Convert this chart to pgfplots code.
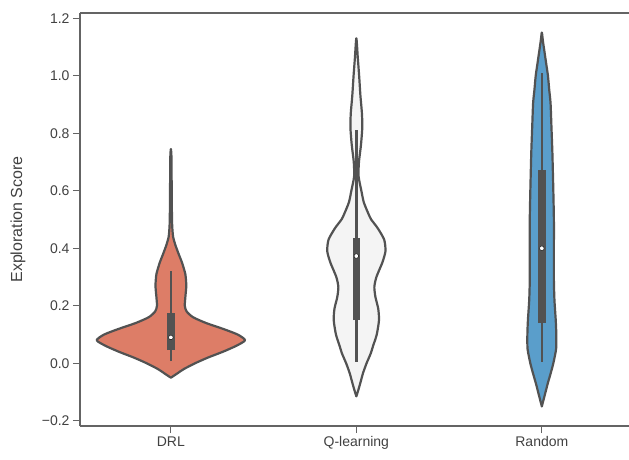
\documentclass[border=0pt]{standalone}
\usepackage{pgfplots}
\pgfplotsset{compat=1.18}
\usepackage{fontspec}
\setmainfont{Liberation Sans}
\definecolor{drl}{RGB}{221,125,103}
\definecolor{ql}{RGB}{244,244,244}
\definecolor{rnd}{RGB}{90,158,203}
\definecolor{vline}{RGB}{82,82,82}
\definecolor{spine}{RGB}{100,100,100}
\definecolor{txt}{RGB}{65,65,65}
\begin{document}
\begin{tikzpicture}
\path[use as bounding box] (0,0) rectangle (629pt,460pt);
\begin{axis}[
  at={(80pt,34pt)}, anchor=south west,
  width=549pt, height=413pt, scale only axis,
  xmin=-0.49, xmax=2.47, ymin=-0.218, ymax=1.218,
  axis lines=left, axis line style={-, spine, line width=1.3pt},
  tick align=outside, major tick length=7pt, tick style={spine, line width=1.1pt},
  xtick={0,1,2}, xticklabels={DRL,Q-learning,Random},
  ytick={-0.2,0,0.2,0.4,0.6,0.8,1.0,1.2},
  yticklabels={−0.2,0.0,0.2,0.4,0.6,0.8,1.0,1.2},
  tick label style={font=\fontsize{14}{16}\selectfont, text=txt},
  ylabel={Exploration Score},
  every axis y label/.style={at={(axis description cs:-0.113,0.5)}, rotate=90, anchor=center, font=\fontsize{16}{18}\selectfont, text=txt},
  clip=false,
]
% DRL violin
\addplot[draw=vline, fill=drl, line width=2.2pt, line join=round, smooth, tension=0.4] coordinates {
(0,-0.05) (0.035,-0.035) (0.07,-0.02) (0.13,0.0) (0.20,0.02) (0.28,0.04) (0.35,0.06) (0.40,0.08)
(0.36,0.10) (0.28,0.12) (0.19,0.14) (0.12,0.16) (0.085,0.18) (0.075,0.20) (0.078,0.23) (0.083,0.27)
(0.078,0.31) (0.06,0.35) (0.042,0.38) (0.025,0.41) (0.012,0.44) (0.007,0.48) (0.005,0.55) (0.004,0.65)
(0.003,0.72) (0,0.745)
(-0.003,0.72) (-0.004,0.65) (-0.005,0.55) (-0.007,0.48) (-0.012,0.44) (-0.025,0.41) (-0.042,0.38)
(-0.06,0.35) (-0.078,0.31) (-0.083,0.27) (-0.078,0.23) (-0.075,0.20) (-0.085,0.18) (-0.12,0.16)
(-0.19,0.14) (-0.28,0.12) (-0.36,0.10) (-0.40,0.08) (-0.35,0.06) (-0.28,0.04) (-0.20,0.02)
(-0.13,0.0) (-0.07,-0.02) (-0.035,-0.035) (0,-0.05)
} -- cycle;
% Q-learning violin
\addplot[draw=vline, fill=ql, line width=2.2pt, line join=round, smooth, tension=0.4] coordinates {
(1,-0.115) (1.012,-0.09) (1.025,-0.06) (1.036,-0.034) (1.055,0.0) (1.078,0.035) (1.09,0.06) (1.11,0.10)
(1.122,0.15) (1.118,0.19) (1.103,0.23) (1.097,0.265) (1.108,0.30) (1.14,0.35) (1.157,0.39) (1.15,0.43)
(1.115,0.47) (1.08,0.50) (1.065,0.52) (1.04,0.56) (1.027,0.60) (1.012,0.65) (1.014,0.70) (1.025,0.76)
(1.032,0.82) (1.03,0.87) (1.022,0.93) (1.015,1.00) (1.008,1.06) (1,1.13)
(0.992,1.06) (0.985,1.00) (0.978,0.93) (0.97,0.87) (0.968,0.82) (0.975,0.76) (0.986,0.70) (0.988,0.65)
(0.973,0.60) (0.96,0.56) (0.935,0.52) (0.92,0.50) (0.885,0.47) (0.85,0.43) (0.843,0.39) (0.86,0.35)
(0.892,0.30) (0.903,0.265) (0.897,0.23) (0.882,0.19) (0.878,0.15) (0.89,0.10) (0.91,0.06) (0.922,0.035)
(0.945,0.0) (0.964,-0.034) (0.975,-0.06) (0.988,-0.09) (1,-0.115)
} -- cycle;
% Random violin
\addplot[draw=vline, fill=rnd, line width=2.2pt, line join=round, smooth, tension=0.4] coordinates {
(2,-0.15) (2.012,-0.12) (2.02,-0.10) (2.032,-0.07) (2.048,-0.034) (2.062,0.0) (2.077,0.05) (2.078,0.10)
(2.075,0.15) (2.068,0.22) (2.065,0.29) (2.065,0.40) (2.065,0.50) (2.062,0.60) (2.057,0.73) (2.052,0.82)
(2.047,0.905) (2.04,0.95) (2.033,1.0) (2.024,1.04) (2.015,1.08) (2.006,1.12) (2,1.15)
(1.994,1.12) (1.985,1.08) (1.976,1.04) (1.967,1.0) (1.96,0.95) (1.953,0.905) (1.948,0.82) (1.943,0.73)
(1.938,0.60) (1.935,0.50) (1.935,0.40) (1.935,0.29) (1.932,0.22) (1.925,0.15) (1.922,0.10) (1.923,0.05)
(1.938,0.0) (1.952,-0.034) (1.968,-0.07) (1.98,-0.10) (1.988,-0.12) (2,-0.15)
} -- cycle;
% whiskers
\addplot[vline, line width=2.3pt] coordinates {(0,0.008) (0,0.32)};
\addplot[vline, line width=2.3pt] coordinates {(1,0.005) (1,0.81)};
\addplot[vline, line width=2.3pt] coordinates {(2,0.005) (2,1.01)};
% boxes (interquartile range)
\addplot[vline, line width=7.5pt] coordinates {(0,0.046) (0,0.174)};
\addplot[vline, line width=7.5pt] coordinates {(1,0.15) (1,0.435)};
\addplot[vline, line width=7.5pt] coordinates {(2,0.14) (2,0.672)};
% medians
\addplot[only marks, mark=*, mark size=2.3pt, mark options={fill=white, draw=none}] coordinates {(0,0.09) (1,0.373) (2,0.40)};
\draw[spine, line width=1.3pt] (rel axis cs:0,1) -- (rel axis cs:1,1);
\end{axis}
\end{tikzpicture}
\end{document}
